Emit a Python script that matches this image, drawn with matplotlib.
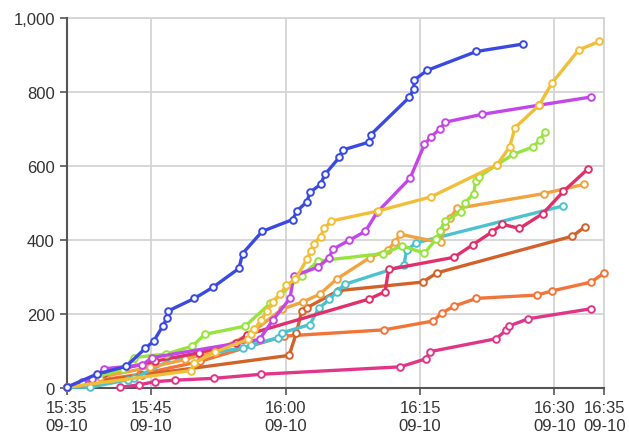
import datetime as dt
import matplotlib
matplotlib.use('Agg')
import matplotlib.pyplot as plt
import matplotlib.dates as mdates
from matplotlib.ticker import FuncFormatter

# 时间以 15:35 起算的分钟数, 数值为累计量
base = dt.datetime(2023, 9, 10, 15, 35)

blue_t = [0.6, 4.0, 7.2, 9.35, 10.3, 11.3, 11.74, 11.9, 14.84, 16.9, 19.8, 20.2, 22.4, 25.8,
          26.3, 27.4, 27.7, 28.9, 29.4, 31.0, 31.4, 34.3, 34.5, 38.8, 39.3, 39.35, 40.8, 46.3, 51.5]
blue_v = [3, 39, 59, 108, 128, 168, 189, 209, 243, 273, 324, 364, 424, 456,
          480, 504, 529, 551, 578, 624, 644, 665, 685, 786, 809, 833, 859, 910, 930]

gold_t = [0.6, 14.5, 14.8, 17.1, 20.8, 21.2, 21.5, 22.3, 22.9, 23.6, 24.4, 25.1, 26.1, 27.4,
          27.8, 28.2, 28.9, 29.3, 30.1, 35.3, 41.2, 48.6, 50.0, 50.6, 53.3, 54.7, 57.7, 60.0]
gold_v = [3, 48, 68, 98, 132, 146, 159, 185, 209, 233, 254, 278, 295, 349,
          371, 391, 410, 432, 452, 479, 517, 604, 652, 704, 765, 824, 914, 937]

purple_t = [0.6, 2.3, 3.4, 4.8, 9.0, 10.1, 22.1, 23.6, 25.5, 25.9, 28.6, 29.8, 30.3, 32.1,
            33.9, 35.2, 38.9, 40.5, 41.2, 42.2, 42.8, 46.9, 53.3, 59.1]
purple_v = [3, 17, 24, 53, 63, 83, 132, 185, 243, 304, 327, 351, 376, 400,
            424, 475, 568, 659, 679, 700, 719, 740, 765, 787]

green_t = [0.6, 6.9, 7.9, 8.1, 11.7, 14.6, 16.0, 20.5, 23.3, 26.8, 28.6, 35.9, 38.0, 40.5,
           41.8, 42.2, 42.8, 44.6, 45.0, 46.0, 46.2, 46.6, 48.6, 50.4, 52.6, 53.4, 53.9]
green_v = [3, 53, 71, 83, 93, 114, 146, 168, 230, 303, 344, 364, 385, 365,
           403, 425, 452, 477, 501, 526, 560, 572, 604, 632, 652, 671, 693]

crimson_t = [0.6, 4.7, 10.4, 15.3, 19.5, 20.7, 34.3, 36.1, 36.5, 43.8, 45.9, 48.0, 49.2,
             51.1, 53.7, 56.0, 58.7]
crimson_v = [3, 41, 73, 96, 122, 145, 241, 261, 321, 354, 388, 422, 443,
             432, 472, 532, 592]

orange_t = [0.6, 4.3, 9.9, 13.8, 17.1, 21.0, 24.6, 26.9, 28.8, 30.7, 34.4, 36.4, 37.2, 37.8,
            42.3, 42.8, 43.4, 44.1, 53.8, 58.3]
orange_v = [3, 30, 57, 78, 100, 146, 214, 233, 254, 295, 353, 374, 395, 416,
            394, 439, 461, 486, 526, 551]

cyan_t = [0.6, 3.2, 7.4, 8.1, 12.3, 20.2, 21.2, 24.2, 24.6, 27.7, 28.7, 29.9, 30.7, 31.6,
          38.2, 38.5, 39.6, 56.0]
cyan_v = [3, 3, 23, 27, 78, 109, 117, 137, 150, 172, 216, 240, 261, 281,
          332, 373, 393, 493]

brown_t = [0.6, 4.0, 9.0, 25.4, 26.2, 26.8, 27.4, 30.9, 40.3, 41.9, 57.0, 58.4]
brown_v = [3, 19, 36, 89, 149, 208, 218, 264, 287, 312, 411, 436]

tomato_t = [0.6, 4.3, 8.8, 15.5, 24.8, 36.0, 41.5, 42.4, 43.8, 46.3, 53.1, 54.7, 59.1, 60.5]
tomato_v = [3, 22, 38, 73, 141, 158, 182, 203, 222, 243, 252, 263, 287, 311]

pink_t = [6.5, 8.6, 10.4, 12.7, 17.0, 22.3, 37.8, 40.7, 41.1, 48.5, 49.6, 49.9, 52.1, 59.1]
pink_v = [3, 9, 18, 22, 27, 38, 58, 80, 99, 134, 157, 168, 188, 215]

series = [
    (pink_t, pink_v, '#e0368a'),
    (tomato_t, tomato_v, '#f27438'),
    (brown_t, brown_v, '#d2622a'),
    (cyan_t, cyan_v, '#4dc2cf'),
    (orange_t, orange_v, '#f0a33f'),
    (crimson_t, crimson_v, '#e0306c'),
    (green_t, green_v, '#98e43e'),
    (purple_t, purple_v, '#c247e6'),
    (gold_t, gold_v, '#f1be38'),
    (blue_t, blue_v, '#3a4ae0'),
]

plt.rcParams['font.family'] = ['Liberation Sans', 'DejaVu Sans']

fig = plt.figure(figsize=(6.29, 4.35), dpi=100)
ax = fig.add_axes([0.106, 0.105, 0.855, 0.851])

for ts, vs, c in series:
    xs = [base + dt.timedelta(minutes=m) for m in ts]
    ax.plot(xs, vs, color=c, lw=2.4, marker='o', ms=4.8, mfc='white', mec=c, mew=1.4,
            clip_on=False, zorder=3)

x0 = base + dt.timedelta(minutes=0.58)
x1 = base + dt.timedelta(minutes=60.58)
ax.set_xlim(x0, x1)
ax.set_ylim(0, 1000)

xticks = [x0, dt.datetime(2023, 9, 10, 15, 45), dt.datetime(2023, 9, 10, 16, 0),
          dt.datetime(2023, 9, 10, 16, 15), dt.datetime(2023, 9, 10, 16, 30), x1]
ax.set_xticks(xticks)
ax.xaxis.set_major_formatter(mdates.DateFormatter('%H:%M\n%m-%d'))
ax.set_yticks(range(0, 1001, 200))
ax.yaxis.set_major_formatter(FuncFormatter(lambda v, p: f'{int(v):,}'))

ax.grid(True, color='#d4d4d4', lw=1.3, zorder=0)
# 边界处的网格线 (上边 1000 与右边 16:35)
ax.axhline(1000, color='#d4d4d4', lw=1.3, clip_on=False, zorder=0)
ax.axvline(x1, color='#d4d4d4', lw=1.3, clip_on=False, zorder=0)
for s in ['top', 'right']:
    ax.spines[s].set_visible(False)
for s in ['left', 'bottom']:
    ax.spines[s].set_color('#555555')
    ax.spines[s].set_linewidth(1.5)
ax.tick_params(colors='#555555', length=5, width=1.2, labelsize=12, labelcolor='#333333')

fig.savefig('out.png', dpi=100, facecolor='white')
